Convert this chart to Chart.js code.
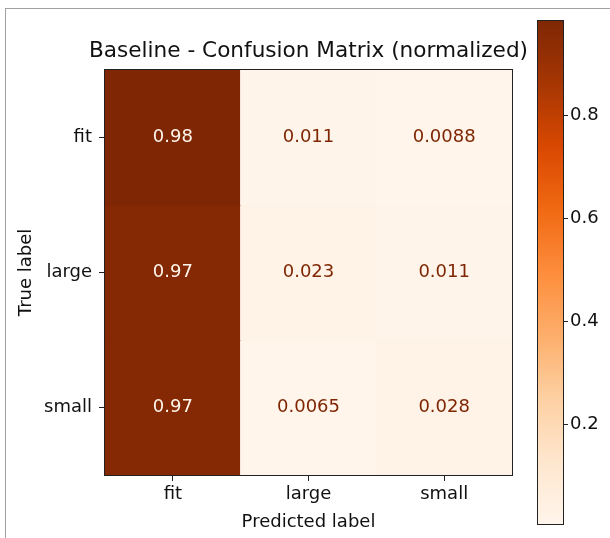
<!DOCTYPE html>
<html>
<head>
<meta charset="utf-8">
<script src="https://cdn.jsdelivr.net/npm/chart.js@4/dist/chart.umd.min.js"></script>
<style>
  html, body { margin: 0; padding: 0; background: #fff; }
  #wrap { position: relative; width: 610px; height: 538px; overflow: hidden; }
  #frame { position: absolute; left: 5px; top: 8px; width: 700px; height: 600px; border-left: 1px solid #a0a0a0; border-top: 1px solid #a0a0a0; }
  #main { position: absolute; left: 0; top: 0; }
  #cbar { position: absolute; left: 520px; top: 0; }
</style>
</head>
<body>
<div id="wrap">
  <div id="frame"></div>
  <canvas id="main" width="610" height="538"></canvas>
  <canvas id="cbar" width="90" height="538"></canvas>
</div>
<script>
// ---- data ----
const trueLabels = ['fit', 'large', 'small'];
const predLabels = ['fit', 'large', 'small'];
const fitRow   = [0.983, 0.011, 0.0088];
const largeRow = [0.966, 0.023, 0.011];
const smallRow = [0.966, 0.0065, 0.028];
const colorbarTicks = [0.2, 0.4, 0.6, 0.8];
const titleText = 'Baseline - Confusion Matrix (normalized)';
const xTitle = 'Predicted label';
const yTitle = 'True label';

// ---- colormap (Oranges) ----
const orangeStops = ['#fff5eb','#fee6ce','#fdd0a2','#fdae6b','#fd8d3c','#f16913','#d94801','#a63603','#7f2704'];
function hexToRgb(h) { return [1,3,5].map(i => parseInt(h.substr(i, 2), 16)); }
function cmap(t) {
  t = Math.max(0, Math.min(1, t));
  const p = t * (orangeStops.length - 1);
  const i = Math.min(Math.floor(p), orangeStops.length - 2);
  const f = p - i;
  const a = hexToRgb(orangeStops[i]), b = hexToRgb(orangeStops[i + 1]);
  const c = a.map((v, k) => Math.round(v + (b[k] - v) * f));
  return `rgb(${c[0]},${c[1]},${c[2]})`;
}

const rows = [fitRow, largeRow, smallRow];
const allVals = rows.flat();
const vmin = Math.min(...allVals);
const vmax = Math.max(...allVals);
const norm = v => (v - vmin) / (vmax - vmin);
const thresh = (vmin + vmax) / 2;

const FONT = 'DejaVu Sans';
const TXT = '#111';
const TICK = 18;

const framePlugin = {
  id: 'frame',
  afterDatasetsDraw(chart) {
    const a = chart.chartArea, ctx = chart.ctx;
    ctx.save();
    ctx.strokeStyle = '#222';
    ctx.lineWidth = 1;
    ctx.strokeRect(Math.round(a.left) - 0.5, Math.round(a.top) - 0.5,
                   Math.round(a.right) - Math.round(a.left) + 1, Math.round(a.bottom) - Math.round(a.top) + 1);
    ctx.restore();
  }
};

// centre the title over the plot area, with room for its full width
const titleCenterPlugin = {
  id: 'titleCenter',
  afterLayout(chart) {
    const t = chart.titleBlock, a = chart.chartArea;
    if (!t) return;
    const cx = (a.left + a.right) / 2;
    t.left = cx - 280; t.right = cx + 280; t.width = 560;
  }
};

const cellTextPlugin = {
  id: 'cellText',
  afterDatasetsDraw(chart) {
    const ctx = chart.ctx;
    ctx.save();
    ctx.font = `${TICK}px "${FONT}"`;
    ctx.textAlign = 'center';
    ctx.textBaseline = 'middle';
    chart.data.datasets.forEach((ds, i) => {
      const meta = chart.getDatasetMeta(i);
      meta.data.forEach((el, j) => {
        const v = ds.values[j];
        ctx.fillStyle = v > thresh ? orangeStops[0] : orangeStops[8];
        const y = (el.y + el.base) / 2;
        ctx.fillText(v.toPrecision(2), el.x, y);
      });
    });
    ctx.restore();
  }
};

new Chart(document.getElementById('main'), {
  type: 'bar',
  data: {
    labels: predLabels,
    datasets: rows.map((row, i) => ({
      label: trueLabels[i],
      values: row,
      data: row.map(() => [i, i + 1]),
      backgroundColor: row.map(v => cmap(norm(v))),
      borderWidth: 0,
      inflateAmount: 0.6,
      grouped: false,
      categoryPercentage: 1,
      barPercentage: 1
    }))
  },
  options: {
    responsive: false,
    animation: false,
    devicePixelRatio: 1,
    layout: { padding: { left: 0, right: 98, top: 0, bottom: 0 } },
    plugins: {
      legend: { display: false },
      tooltip: { enabled: false },
      title: {
        display: true, text: titleText, fullSize: false,
        color: TXT, font: { family: FONT, size: 21.6, weight: 'normal' },
        padding: { top: 38, bottom: 6 }
      }
    },
    scales: {
      x: {
        type: 'category', position: 'bottom', offset: true,
        grid: { display: true, drawOnChartArea: false, drawTicks: true, tickLength: 6, offset: false, color: '#222' },
        border: { display: false },
        ticks: { color: TXT, font: { family: FONT, size: TICK }, padding: 3, maxRotation: 0 },
        title: { display: true, text: xTitle, color: TXT, font: { family: FONT, size: TICK }, padding: { top: 0, bottom: 5 } },
        afterFit: s => { s.height = 63; }
      },
      y: {
        type: 'linear', min: 0, max: 3, reverse: true,
        afterBuildTicks: s => { s.ticks = trueLabels.map((_, i) => ({ value: i + 0.5 })); },
        grid: { display: true, drawOnChartArea: false, drawTicks: true, tickLength: 6, color: '#222' },
        border: { display: false },
        ticks: { color: TXT, font: { family: FONT, size: TICK }, padding: 7, callback: v => trueLabels[Math.floor(v)] },
        title: { display: true, text: yTitle, color: TXT, font: { family: FONT, size: TICK }, padding: { top: 16, bottom: 0 } },
        afterFit: s => { s.width = 105; }
      }
    }
  },
  plugins: [titleCenterPlugin, framePlugin, cellTextPlugin]
});

new Chart(document.getElementById('cbar'), {
  type: 'bar',
  data: {
    labels: [''],
    datasets: [{
      data: [[vmin, vmax]],
      backgroundColor: (c) => {
        const a = c.chart.chartArea;
        if (!a) return orangeStops[0];
        const g = c.chart.ctx.createLinearGradient(0, a.bottom, 0, a.top);
        orangeStops.forEach((col, k) => g.addColorStop(k / (orangeStops.length - 1), col));
        return g;
      },
      borderWidth: 0,
      categoryPercentage: 1,
      barPercentage: 1
    }]
  },
  options: {
    responsive: false,
    animation: false,
    devicePixelRatio: 1,
    layout: { padding: { left: 18, right: 0, top: 21, bottom: 14 } },
    plugins: { legend: { display: false }, tooltip: { enabled: false } },
    scales: {
      x: { display: false },
      y: {
        position: 'right', min: vmin, max: vmax,
        afterBuildTicks: s => { s.ticks = colorbarTicks.map(v => ({ value: v })); },
        grid: { display: true, drawOnChartArea: false, drawTicks: true, tickLength: 5, color: '#222' },
        border: { display: false },
        ticks: { color: TXT, font: { family: FONT, size: TICK }, padding: 2, callback: v => v.toFixed(1) },
        afterFit: s => { s.width = 47; }
      }
    }
  },
  plugins: [framePlugin]
});
</script>
</body>
</html>
